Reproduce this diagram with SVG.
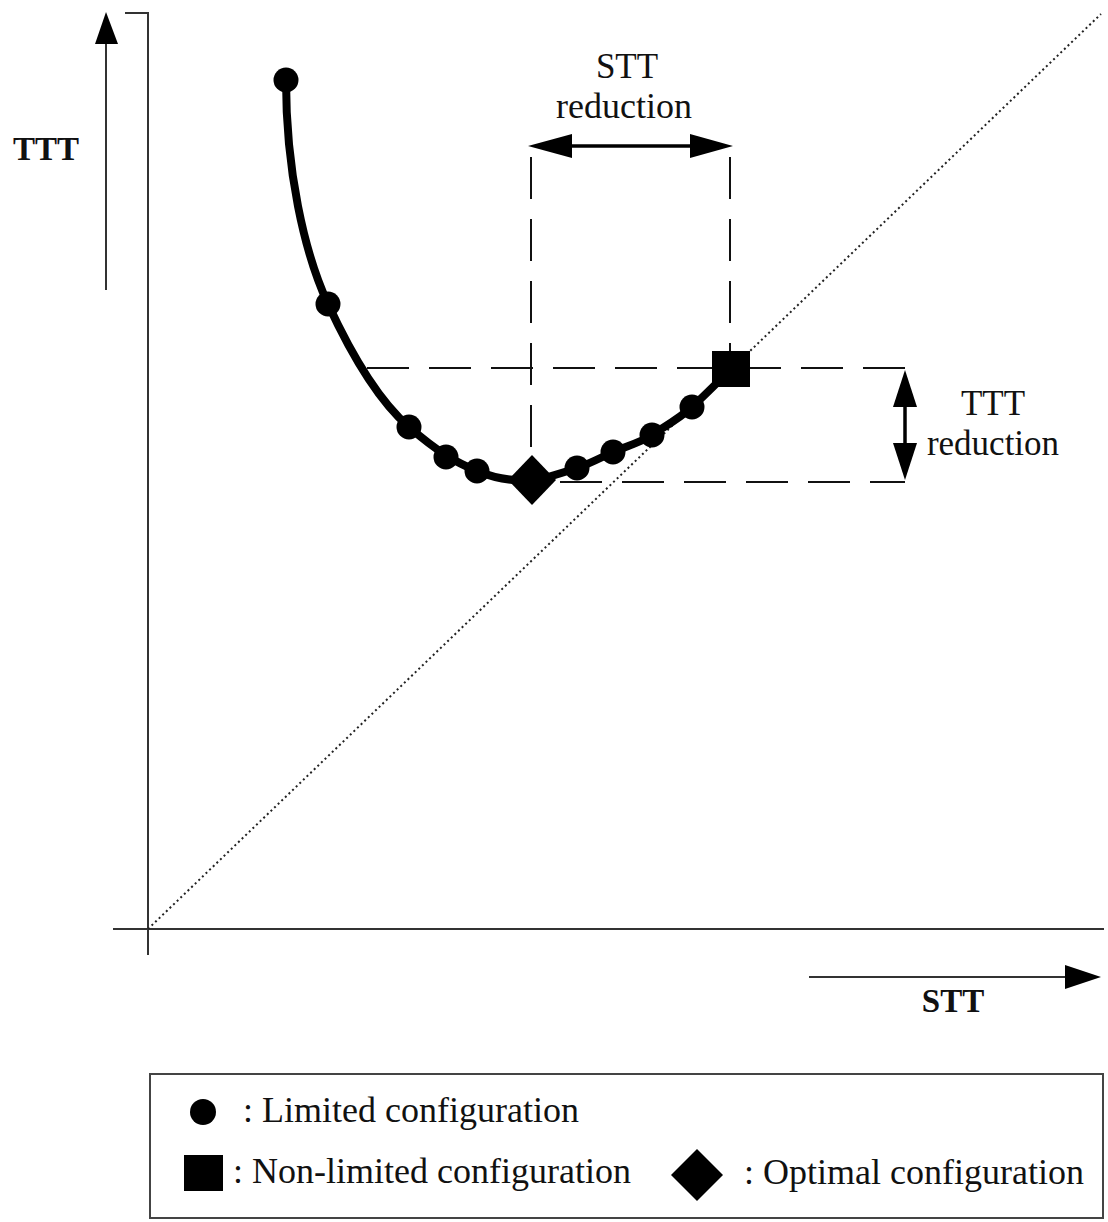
<svg xmlns="http://www.w3.org/2000/svg" width="1108" height="1222" viewBox="0 0 1108 1222">
<style>
.axis{stroke:#333;stroke-width:2;fill:none}
.dash{stroke:#111;stroke-width:2;fill:none;stroke-dasharray:42 20}
.arr{stroke:#000;stroke-width:3.5;fill:none}
.head{fill:#000}
.t{font-family:"Liberation Serif","Times New Roman",serif;fill:#111}
.b{font-weight:bold}
</style>
<rect width="1108" height="1222" fill="#fff"/>
<g id="axes">
<path class="axis" d="M125,13 H148 V955"/>
<path class="axis" d="M113,929 H1104"/>
<line x1="148" y1="929" x2="1101" y2="14" stroke="#222" stroke-width="2" stroke-dasharray="2 3"/>
<line class="axis" x1="106" y1="40" x2="106" y2="290" stroke-width="2.5"/>
<polygon class="head" points="106,12 95,44 118,44"/>
<line class="axis" x1="809" y1="977" x2="1068" y2="977" stroke-width="2.5"/>
<polygon class="head" points="1101,977 1065,965 1065,989"/>
<text class="t b" x="46" y="160" font-size="33" text-anchor="middle">TTT</text>
<text class="t b" x="953" y="1012" font-size="33" text-anchor="middle">STT</text>
</g>
<g id="connectors">
<path class="dash" d="M367,368 H905"/>
<path class="dash" d="M560,482 H905"/>
<path class="dash" d="M531,157 V480"/>
<path class="dash" d="M730,157 V368"/>
<line class="arr" x1="560" y1="146" x2="702" y2="146"/>
<polygon class="head" points="528,146 572,134 572,158"/>
<polygon class="head" points="733,146 690,134 690,158"/>
<line class="arr" x1="905" y1="395" x2="905" y2="455"/>
<polygon class="head" points="905,370 893,407 917,407"/>
<polygon class="head" points="905,480 893,443 917,443"/>
</g>
<g id="curve">
<path d="M286,80 C286,170 304,252 328,304 S380,402 409,427 S455,462 477,471 S520,481 532,480 S565,472 577,468 S600,458 613,452 S640,443 652,435 S680,418 692,407 S720,380 731,369" fill="none" stroke="#000" stroke-width="8" stroke-linejoin="round"/>
</g>
<g id="points" fill="#000">
<circle cx="286" cy="80" r="12.5"/>
<circle cx="328" cy="304" r="12.5"/>
<circle cx="409" cy="427" r="12.5"/>
<circle cx="446" cy="457" r="12.5"/>
<circle cx="477" cy="471" r="12.5"/>
<circle cx="577" cy="468" r="12.5"/>
<circle cx="613" cy="452" r="12.5"/>
<circle cx="652" cy="435" r="12.5"/>
<circle cx="692" cy="407" r="12.5"/>
</g>
<g id="optimal"><polygon points="532,455 556,480 532,505 508,480" fill="#000"/></g>
<g id="nonlimited"><rect x="712" y="351" width="38" height="36" fill="#000"/></g>
<g id="stt-reduction">
<text class="t" x="627" y="78" font-size="35" text-anchor="middle">STT</text>
<text class="t" x="624" y="118" font-size="36" text-anchor="middle">reduction</text>
</g>
<g id="ttt-reduction">
<text class="t" x="993" y="415" font-size="35" text-anchor="middle">TTT</text>
<text class="t" x="993" y="455" font-size="35" text-anchor="middle">reduction</text>
</g>
<g id="legend">
<rect x="150" y="1074" width="953" height="144" fill="none" stroke="#444" stroke-width="2"/>
<circle cx="203" cy="1112" r="13" fill="#000"/>
<text class="t" x="243" y="1122" font-size="36">: Limited configuration</text>
<rect x="184" y="1155" width="39" height="36" fill="#000"/>
<text class="t" x="233" y="1183" font-size="36">: Non-limited configuration</text>
<polygon points="697,1149 723,1175 697,1201 671,1175" fill="#000"/>
<text class="t" x="744" y="1184" font-size="36">: Optimal configuration</text>
</g>
</svg>
